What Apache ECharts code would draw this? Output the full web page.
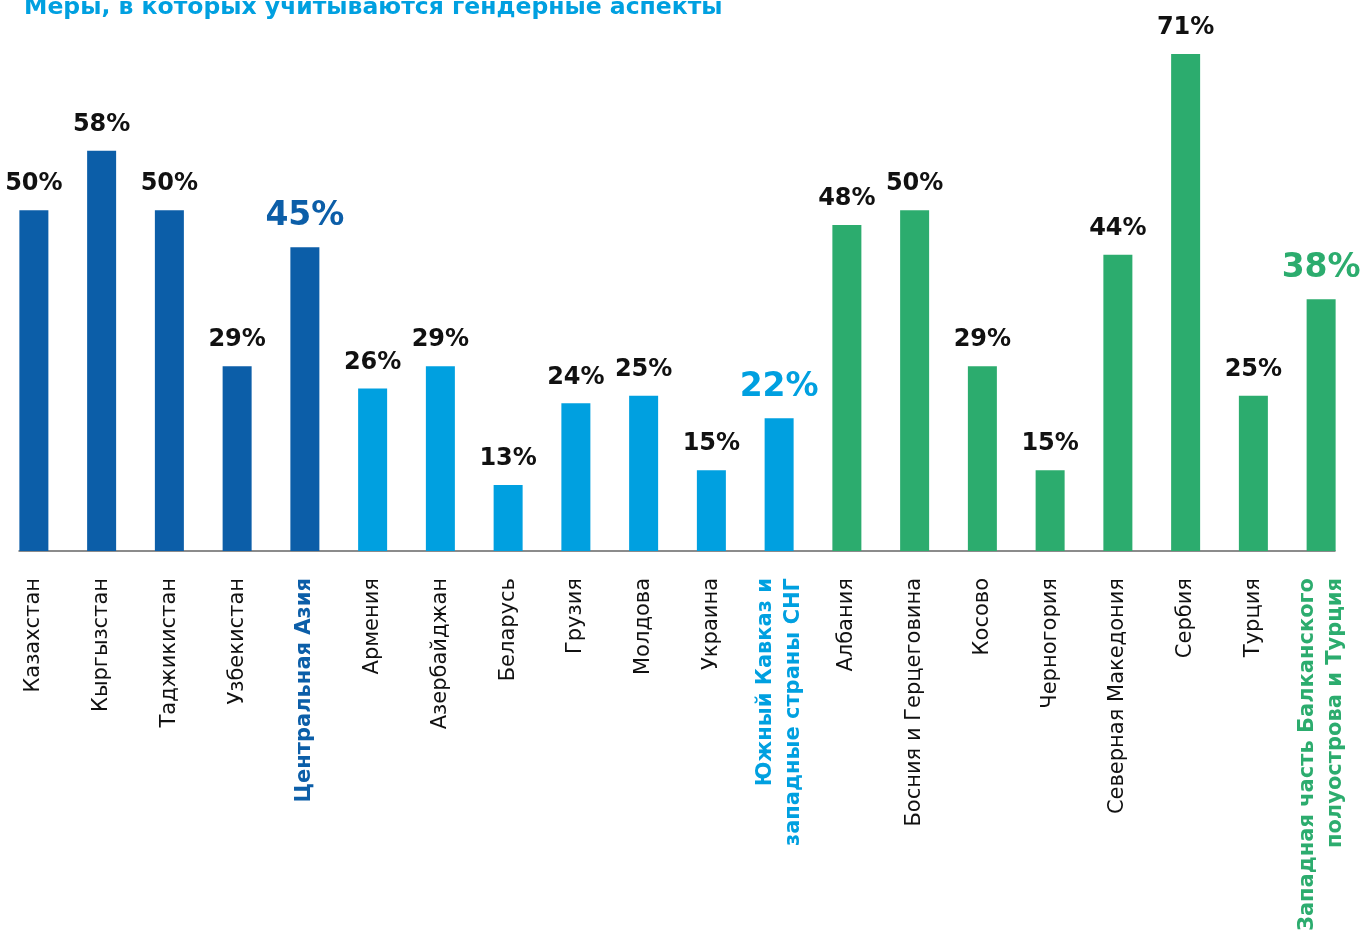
<!DOCTYPE html>
<html>
<head>
<meta charset="utf-8">
<script src="https://cdn.jsdelivr.net/npm/echarts@6/dist/echarts.min.js"></script>
<style>
html,body{margin:0;padding:0;background:#fff;}
#chart{width:1361px;height:943px;}
</style>
</head>
<body>
<div id="chart"></div>
<script>
// ---- data ----
const titleText = 'Меры, в которых учитываются гендерные аспекты';
const categories = [
  'Казахстан','Кыргызстан','Таджикистан','Узбекистан','Центральная Азия',
  'Армения','Азербайджан','Беларусь','Грузия','Молдова','Украина','Южный Кавказ и\nзападные страны СНГ',
  'Албания','Босния и Герцеговина','Косово','Черногория','Северная Македония','Сербия','Турция','Западная часть Балканского\nполуострова и Турция'
];
const values = [50,58,50,29,45, 26,29,13,24,25,15,22, 48,50,29,15,44,71,25,38];
const groups = ['ca','ca','ca','ca','ca', 'sc','sc','sc','sc','sc','sc','sc', 'wb','wb','wb','wb','wb','wb','wb','wb'];
const isAggregate = [false,false,false,false,true, false,false,false,false,false,false,true, false,false,false,false,false,false,false,true];

// ---- style ----
const groupColors = {ca:'#0c5ea8', sc:'#00a0e0', wb:'#2cac6e'};
const FONT = '"DejaVu Sans", sans-serif';

const seriesData = values.map((v,i)=>({
  value: v,
  itemStyle:{color: groupColors[groups[i]]},
  label: isAggregate[i]
    ? {fontSize: 33, color: groupColors[groups[i]], distance: 14}
    : {fontSize: 24, color: '#111', distance: 14}
}));

const axisData = categories.map((c,i)=>({
  value: c,
  textStyle: isAggregate[i]
    ? {color: groupColors[groups[i]], fontWeight: 'bold', fontSize: 21, lineHeight: 28}
    : {color: '#111', fontSize: 21}
}));

const chart = echarts.init(document.getElementById('chart'), null, {renderer:'canvas'});
chart.setOption({
  animation: false,
  backgroundColor: '#fff',
  title: {
    text: titleText, left: 19, top: -9,
    textStyle: {color:'#00a0e0', fontSize: 23.5, fontWeight: 'bold', fontFamily: FONT}
  },
  grid: [
    {left: 0, width: 1355, top: 24.4, bottom: 392, containLabel: false},
    {left: 19, width: 1316, top: 24.4, bottom: 392, containLabel: false}
  ],
  xAxis: [
    {
      type: 'category', gridIndex: 0, data: axisData,
      axisLine: {show: false}, axisTick: {show: false},
      axisLabel: {rotate: 90, margin: 27, interval: 0, fontFamily: FONT, color:'#111', fontSize: 21}
    },
    {
      type: 'value', gridIndex: 1, min: 0, max: 1,
      axisLine: {show: true, onZero: false, lineStyle: {color: '#666', width: 1.5}},
      axisTick: {show: false}, axisLabel: {show: false}, splitLine: {show: false}
    }
  ],
  yAxis: [
    {type: 'value', gridIndex: 0, min: 4.12, max: 75, show: false, splitLine:{show:false}},
    {type: 'value', gridIndex: 1, min: 0, max: 1, show: false, splitLine:{show:false}}
  ],
  series: [{
    type: 'bar', xAxisIndex: 0, yAxisIndex: 0,
    barWidth: 29,
    data: seriesData,
    label: {
      show: true, position: 'top', fontWeight: 'bold', fontFamily: FONT,
      formatter: p => p.value + '%'
    }
  }]
});
</script>
</body>
</html>
